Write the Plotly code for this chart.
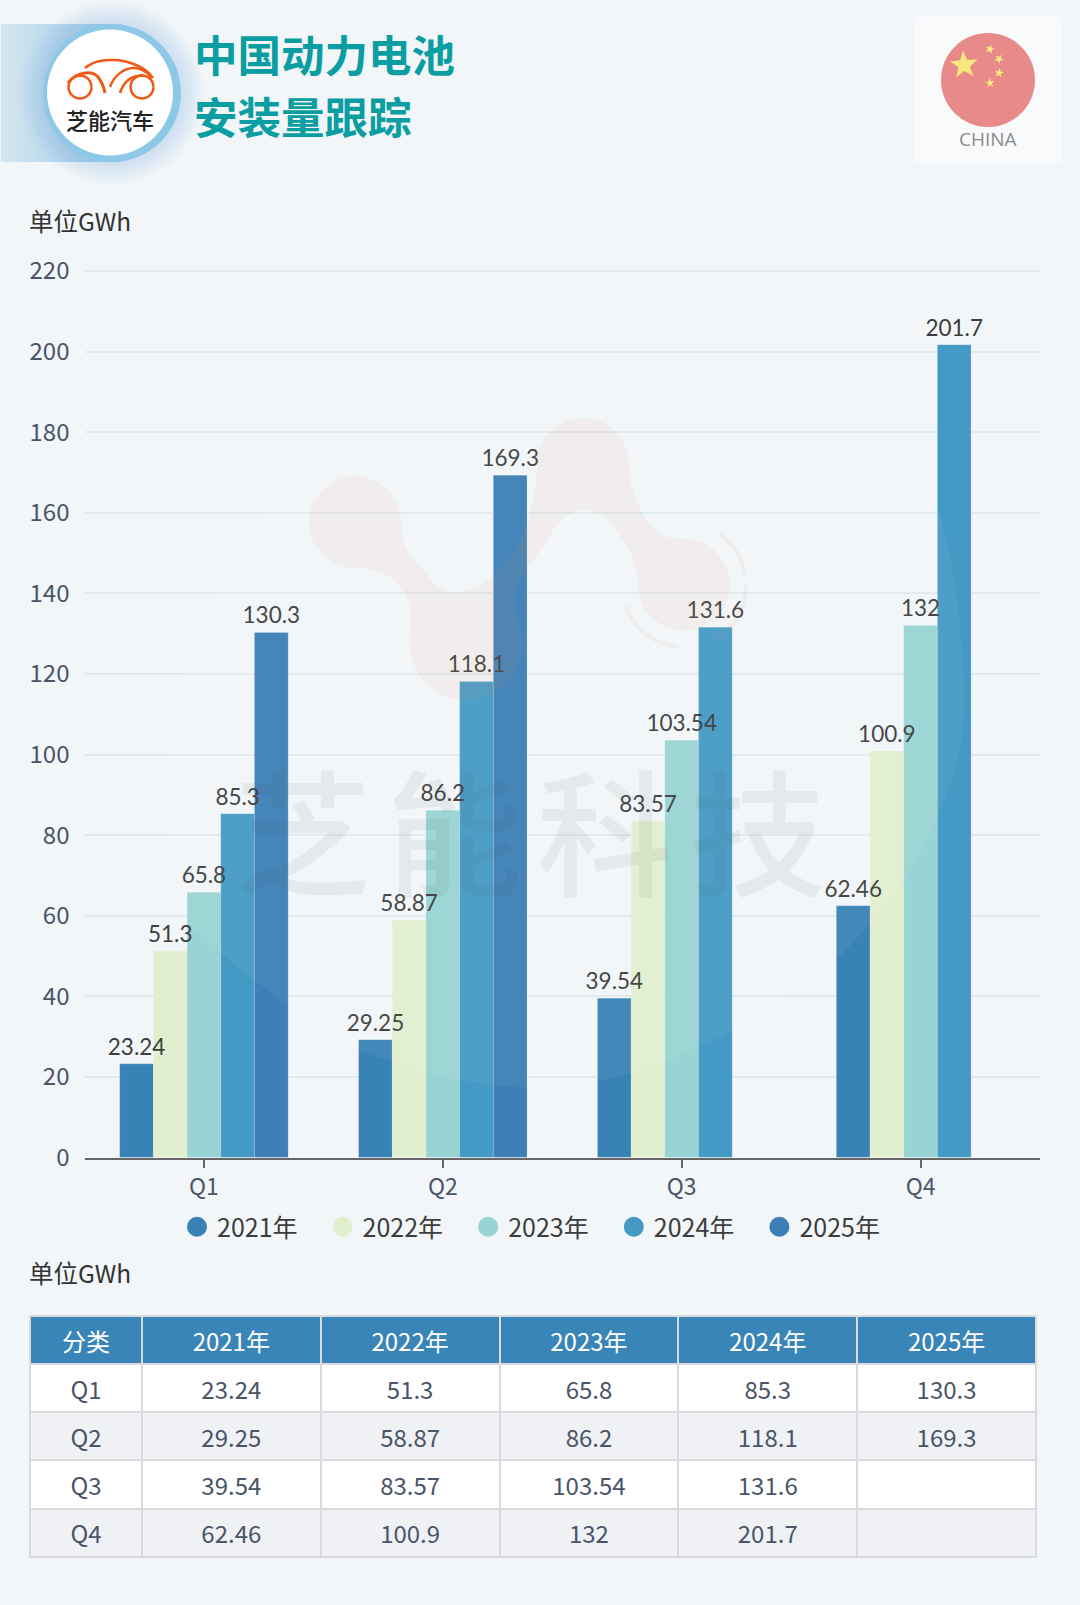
import math
import plotly.graph_objects as go

W = 1080
H = 1605
CJK = "Noto Sans CJK SC"

quarters = ["Q1", "Q2", "Q3", "Q4"]
years = ["2021年", "2022年", "2023年", "2024年", "2025年"]
v2021 = [23.24, 29.25, 39.54, 62.46]
v2022 = [51.3, 58.87, 83.57, 100.9]
v2023 = [65.8, 86.2, 103.54, 132]
v2024 = [85.3, 118.1, 131.6, 201.7]
v2025 = [130.3, 169.3, None, None]
colors = ["#3882b6", "#e1efcf", "#98d4d3", "#459ac5", "#3d7fb6"]
y_ticks = [0, 20, 40, 60, 80, 100, 120, 140, 160, 180, 200, 220]
series = [v2021, v2022, v2023, v2024, v2025]


def xp(x):
    return x / W


def yp(y):
    return 1 - y / H


# path written in page pixels, converted to paper units
def to_paper(path):
    out = []
    is_x = True
    for t in path.split():
        if t.isalpha():
            out.append(t)
            is_x = True
        else:
            out.append(f"{xp(float(t)):.5f}" if is_x else f"{yp(float(t)):.5f}")
            is_x = not is_x
    return " ".join(out)


def path_shape(path, fill=None, line=None, width=0, opacity=1, layer="above"):
    return dict(type="path", xref="paper", yref="paper", path=to_paper(path), layer=layer, opacity=opacity,
                fillcolor=fill if fill else "rgba(0,0,0,0)",
                line=dict(color=line if line else "rgba(0,0,0,0)", width=width))


def circle(cx, cy, r, fill, opacity=1, layer="above"):
    return dict(type="circle", xref="paper", yref="paper", x0=xp(cx - r), x1=xp(cx + r), y0=yp(cy + r), y1=yp(cy - r),
                fillcolor=fill, line_width=0, opacity=opacity, layer=layer)


def rect(x0, y0, x1, y1, fill, layer="above"):
    return dict(type="rect", xref="paper", yref="paper", x0=xp(x0), x1=xp(x1), y0=yp(y1), y1=yp(y0),
                fillcolor=fill, line_width=0, layer=layer)


def star(cx, cy, R, rot=0):
    pts = []
    for i in range(10):
        r = R if i % 2 == 0 else R * 0.42
        a = math.radians(-90 + rot + i * 36)
        pts.append((cx + r * math.cos(a), cy + r * math.sin(a)))
    return "M " + " L ".join(f"{x:.1f} {y:.1f}" for x, y in pts) + " Z"


def arc(cx, cy, r, a0, a1):
    pts = []
    for i in range(25):
        a = math.radians(a0 + (a1 - a0) * i / 24)
        pts.append((cx + r * math.cos(a), cy + r * math.sin(a)))
    return "M " + " L ".join(f"{x:.1f} {y:.1f}" for x, y in pts)


def label(x, y, text, size, color, anchor="left", family=CJK, bold=False, weight=None):
    if bold:
        text = "<b>" + text + "</b>"
    font = dict(family=family, size=size, color=color)
    if weight:
        font["weight"] = weight
    return dict(xref="paper", yref="paper", x=xp(x), y=yp(y), text=text, showarrow=False, xanchor=anchor,
                yanchor="middle", font=font)


fig = go.Figure()

for name, vals, col in zip(years, series, colors):
    fig.add_trace(go.Bar(x=quarters, y=vals, name=name, marker_color=col,
                         marker_line=dict(color="rgba(255,255,255,0.15)", width=1),
                         offsetgroup=name, showlegend=False, hoverinfo="skip"))

# labels as scatter text so they sit on top of the neighbouring bars
# the invisible marker only pushes the text a bit higher
for name, vals in zip(years, series):
    fig.add_trace(go.Scatter(x=quarters, y=vals, mode="markers+text", offsetgroup=name, showlegend=False,
                             hoverinfo="skip", marker=dict(size=4, opacity=0),
                             text=["" if v is None else str(v) for v in vals], textposition="top center",
                             textfont=dict(family="Lato", size=22.5, color="#3d3d3d"), cliponaxis=False))

# legend only, bars would give squares
for name, col in zip(years, colors):
    fig.add_trace(go.Scatter(x=quarters, y=[None] * 4, mode="markers", name=name, offsetgroup=name,
                             marker=dict(color=col, size=20, symbol="circle", line=dict(color=col, width=4)),
                             hoverinfo="skip"))

header = ["分类"] + years
columns = [quarters] + [["" if v is None else str(v) for v in vals] for vals in series]
row_fill = ["#ffffff", "#f0f1f5", "#ffffff", "#f0f1f5"]
col_widths = [112, 179, 179, 179, 179, 179]
# table text always hugs the cell top, so grid and text are two tables
fig.add_trace(go.Table(
    domain=dict(x=[xp(30), xp(1037)], y=[yp(1560), yp(1316)]),
    columnwidth=col_widths,
    header=dict(values=[""] * 6, height=48, fill_color="#3a85b8", line=dict(color="#d9dade", width=2)),
    cells=dict(values=[[""] * 4] * 6, height=48.2, fill_color=[row_fill] * 6, line=dict(color="#d9dade", width=2)),
))
fig.add_trace(go.Table(
    domain=dict(x=[xp(30), xp(1037)], y=[yp(1574), yp(1324.5)]),
    columnwidth=col_widths,
    header=dict(values=header, height=48, fill_color="rgba(0,0,0,0)", line=dict(color="rgba(0,0,0,0)", width=2),
                font=dict(family=CJK, size=24, color="white"), align="center"),
    cells=dict(values=columns, height=48.2, fill_color="rgba(0,0,0,0)", line=dict(color="rgba(0,0,0,0)", width=2),
               font=dict(family=CJK, size=24, color="#4a5568"), align="center"),
))

shapes = []

# header strip behind the logo
steps = 24
for i in range(steps):
    t = i / (steps - 1)
    c = (int(212 - 60 * t), int(230 - 30 * t), int(240 - 4 * t))
    shapes.append(rect(1 + i * 5, 24, 1 + (i + 1) * 5, 162, f"rgb({c[0]},{c[1]},{c[2]})", layer="below"))
for r in range(92, 69, -3):
    shapes.append(circle(112, 93, r, "#7fa6e8", opacity=0.04, layer="below"))
shapes.append(circle(112, 93, 69, "#8ec8e8", layer="below"))
shapes.append(circle(110, 92.5, 63, "#ffffff", layer="below"))

# car logo
car = "#f05a14"
for cx in (80, 142):
    shapes.append(path_shape(arc(cx, 87, 11.5, 0, 360), line=car, width=2.5, layer="below"))
shapes.append(path_shape("M 85 68 C 95 60 105 60 112 60 C 130 60 146 68 153 78", line=car, width=2.5, layer="below"))
shapes.append(path_shape("M 68 83 C 76 72 92 70 98 77 C 102 82 104 88 105 93", line=car, width=3, layer="below"))
shapes.append(path_shape("M 110 87 C 113 78 122 68 134 68 C 142 68 148 73 152 78", line=car, width=2.5, layer="below"))
shapes.append(path_shape("M 120 93 C 123 84 128 76 143 75", line=car, width=2.5, layer="below"))

# flag badge
shapes.append(rect(915, 17, 1061, 163, "#f8fafc", layer="below"))
shapes.append(circle(988, 80, 47, "#e98a8a", layer="below"))
flag_star = "#f9e87c"
shapes.append(path_shape(star(964, 65, 14.5, -4), fill=flag_star, layer="below"))
for sx, sy, rot in [(990, 49, 15), (999, 59, 30), (999, 73, 10), (990, 83, -5)]:
    shapes.append(path_shape(star(sx, sy, 4.8, rot), fill=flag_star, layer="below"))

# watermark blob
blob = ("M 355 476 C 380 476 401 497 401 522 C 401 545 410 556 420 566 C 432 582 440 592 453 592 "
        "C 490 592 510 560 525 530 C 530 515 537 490 537 464 C 537 438 558 418 583 418 "
        "C 608 418 629 438 629 464 C 629 490 640 515 655 530 C 662 537 672 539 684 539 "
        "C 710 539 730 560 730 585 C 730 610 710 631 684 631 C 660 631 638 610 638 585 "
        "C 638 565 630 550 620 535 C 610 520 600 510 585 510 C 570 510 558 520 550 535 "
        "C 538 560 514 575 514 600 C 514 615 522 625 522 644 C 522 675 497 700 466 700 "
        "C 435 700 410 675 410 644 C 410 625 414 612 408 600 C 400 585 390 568 355 568 "
        "C 330 568 309 547 309 522 C 309 497 330 476 355 476 Z")
shapes.append(path_shape(blob, fill="#d98a5a", opacity=0.08))
shapes.append(path_shape(arc(684, 585, 62, 95, 160), line="#d98a5a", width=4, opacity=0.08))
shapes.append(path_shape(arc(684, 585, 62, -55, -10), line="#d98a5a", width=4, opacity=0.08))
shapes.append(path_shape(arc(684, 585, 62, 0, 60), line="#d98a5a", width=4, opacity=0.08))

# big faint disc, only shows where it crosses the bars
disc = ("M 190 927 C 240 970 300 1020 360 1050 C 420 1075 480 1087 540 1088 C 630 1085 730 1045 837 959 "
        "C 920 880 975 770 963 668 C 960 600 950 550 938 508 C 900 400 780 330 600 330 "
        "C 400 330 180 500 165 800 C 165 860 175 910 190 927 Z")
shapes.append(path_shape(disc, fill="#ffffff", opacity=0.05))

annotations = [
    label(192, 53, "中国动力电池", 43.5, "#0a9ea3", bold=True),
    label(192, 115, "安装量跟踪", 43.5, "#0a9ea3", bold=True),
    label(110, 119, "芝能汽车", 22, "#222222", anchor="center", weight=500),
    label(988, 139, "CHINA", 19, "#8c8c8c", anchor="center", family="Open Sans"),
    label(26.5, 220, "单位GWh", 24.5, "#333333"),
    label(26.5, 1272, "单位GWh", 24.5, "#333333"),
]
for ch, cx in zip("芝能科技", [303, 454, 605, 758]):
    annotations.append(label(cx, 826, ch, 136, "rgba(60,70,70,0.07)", anchor="center", weight=500))

fig.update_layout(
    width=W, height=H,
    margin=dict(l=0, r=0, t=0, b=0, autoexpand=False),
    paper_bgcolor="#f2f6f8", plot_bgcolor="rgba(0,0,0,0)",
    barmode="group", bargap=0.295, bargroupgap=0,
    scattermode="group", scattergap=0.295,
    shapes=shapes, annotations=annotations,
    legend=dict(orientation="h", x=xp(177), y=yp(1227), xanchor="left", yanchor="middle", bgcolor="rgba(0,0,0,0)",
                entrywidth=100.6, entrywidthmode="pixels", itemclick=False, itemdoubleclick=False,
                font=dict(family=CJK, size=25, color="#3d3d3d")),
    xaxis=dict(domain=[xp(84.5), xp(1040)], type="category", categoryorder="array", categoryarray=quarters,
               showgrid=False, showline=True, linecolor="#666666", linewidth=2, ticks="outside", ticklen=8,
               tickwidth=2, tickcolor="#666666", tickfont=dict(family=CJK, size=23, color="#4a5568"), zeroline=False),
    yaxis=dict(domain=[yp(1157.5), yp(269.8)], range=[0, 220.3], tickvals=y_ticks, showline=False, ticks="",
               gridcolor="#deeaeb", gridwidth=1.5, zeroline=False, ticklabelstandoff=14,
               tickfont=dict(family=CJK, size=24, color="#4a5568")),
)

fig.write_html("out.html", config=dict(displayModeBar=False),
               post_script="document.body.style.margin='0';document.body.style.background='#f2f6f8';")
